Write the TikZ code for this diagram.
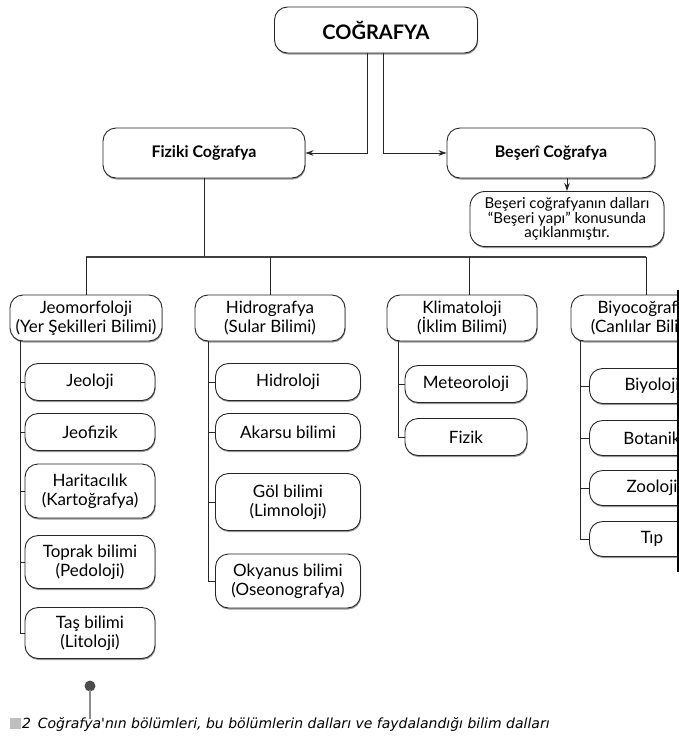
\documentclass[tikz,border=0pt]{standalone}
\usepackage{fontspec}
\setmainfont{Lato}
\newfontfamily\capfont{DejaVu Sans}
\usetikzlibrary{arrows.meta,shadows}
\begin{document}
\begin{tikzpicture}[x=1pt,y=-1pt,
  box/.style={draw=black!85, line width=0.9pt, rounded corners=13pt, fill=white,
    align=center, inner sep=0pt, font=\fontsize{17}{19}\selectfont,
    drop shadow={shadow xshift=0.6pt, shadow yshift=-1.5pt, fill=black!40, opacity=1}},
  title/.style={box, font=\fontsize{16}{18}\selectfont\bfseries},
  small/.style={box, font=\fontsize{15}{14.5}\selectfont, rounded corners=15pt},
  conn/.style={draw=black!85, line width=1pt},
  bus/.style={draw=black!75, line width=1.6pt},
  arr/.style={conn, -{Stealth[length=8pt, width=5.5pt]}},
]
\useasboundingbox (0,0) rectangle (679,739);
\clip (0,0) rectangle (679,739);

% top level
\node[title, font=\fontsize{20}{22}\selectfont\bfseries, minimum width=203pt, minimum height=46pt] (cog) at (376,30) {COĞRAFYA};
\node[title, minimum width=202pt, minimum height=50pt] (fiz) at (204,153) {Fiziki Coğrafya};
\node[title, minimum width=208pt, minimum height=50pt] (bes) at (551,153) {Beşerî Coğrafya};
\node[small, minimum width=194pt, minimum height=55pt] (dal) at (567,219) {Beşeri coğrafyanın dalları\\“Beşeri yapı” konusunda\\açıklanmıştır.};

\coordinate (cl) at (367,153);
\coordinate (cr) at (383,153);
\draw[arr] (cog.south -| cl) |- (fiz.east);
\draw[arr] (cog.south -| cr) |- (bes.west);
\draw[arr] (bes.south -| dal.north) -- (dal.north);

% second level
\node[box, minimum width=152pt, minimum height=46pt] (jeo) at (86,318) {Jeomorfoloji\\(Yer Şekilleri Bilimi)};
\node[box, minimum width=150pt, minimum height=46pt] (hid) at (270,318) {Hidrografya\\(Sular Bilimi)};
\node[box, minimum width=150pt, minimum height=46pt] (kli) at (462,318) {Klimatoloji\\(İklim Bilimi)};
\node[box, minimum width=150pt, minimum height=46pt] (biy) at (646,318) {Biyocoğrafya\\(Canlılar Bilimi)};

\coordinate (busy) at (0,257);
\coordinate (kd) at (469,0);
\draw[conn] (fiz.south) -- (fiz.south |- busy);
\draw[bus] (jeo.north |- busy) -- (biy.north |- busy);
\foreach \n in {jeo,hid,biy} {\draw[conn] (\n.north |- busy) -- (\n.north);}
\draw[conn] (kd |- busy) -- (kd |- kli.north);

% Jeomorfoloji column
\node[box, minimum width=130pt, minimum height=37pt] (j1) at (90,382) {Jeoloji};
\node[box, minimum width=130pt, minimum height=37pt] (j2) at (90,432) {Jeofizik};
\node[box, minimum width=130pt, minimum height=54pt] (j3) at (90,491) {Haritacılık\\(Kartoğrafya)};
\node[box, minimum width=130pt, minimum height=53pt] (j4) at (90,562) {Toprak bilimi\\(Pedoloji)};
\node[box, minimum width=130pt, minimum height=51pt] (j5) at (90,633) {Taş bilimi\\(Litoloji)};

% Hidrografya column
\node[box, minimum width=145pt, minimum height=37pt] (h1) at (288,382) {Hidroloji};
\node[box, minimum width=145pt, minimum height=37pt] (h2) at (288,432) {Akarsu bilimi};
\node[box, minimum width=145pt, minimum height=57pt] (h3) at (288,502) {Göl bilimi\\(Limnoloji)};
\node[box, minimum width=145pt, minimum height=54pt] (h4) at (288,581) {Okyanus bilimi\\(Oseonografya)};

% Klimatoloji column
\node[box, minimum width=122pt, minimum height=37pt] (k1) at (466,384) {Meteoroloji};
\node[box, minimum width=122pt, minimum height=37pt] (k2) at (466,437) {Fizik};

% Biyocografya column
\node[box, minimum width=125pt, minimum height=35pt] (b1) at (652,386) {Biyoloji};
\node[box, minimum width=125pt, minimum height=35pt] (b2) at (652,438) {Botanik};
\node[box, minimum width=125pt, minimum height=35pt] (b3) at (652,488) {Zooloji};
\node[box, minimum width=125pt, minimum height=35pt] (b4) at (652,539) {Tıp};

% column connectors
\coordinate (jx) at (20,0);
\coordinate (hx) at (208,0);
\coordinate (kx) at (398,0);
\coordinate (bx) at (580,0);
\draw[conn] (jeo.south -| jx) |- (j5.west);
\foreach \c in {j1,j2,j3,j4} {\draw[conn] (\c.west -| jx) -- (\c.west);}
\draw[conn] (hid.south -| hx) |- (h4.west);
\foreach \c in {h1,h2,h3} {\draw[conn] (\c.west -| hx) -- (\c.west);}
\draw[conn] (kli.south -| kx) |- (k2.west);
\draw[conn] (k1.west -| kx) -- (k1.west);
\draw[conn] (biy.south -| bx) |- (b4.west);
\foreach \c in {b1,b2,b3} {\draw[conn] (\c.west -| bx) -- (\c.west);}

% right scan edge
\fill[black] (677,290) rectangle (679,572);

% pin and caption
\fill[black!70] (90,686) circle (5.5);
\draw[black!45, line width=2pt] (90,690) -- (90,719);
\fill[black!25] (10,718) rectangle (21,729);
\node[anchor=west, inner sep=0pt, font=\capfont\fontsize{14}{15}\selectfont\itshape] (cap) at (22,724)
  {2\, Coğrafya'nın bölümleri, bu bölümlerin dalları ve faydalandığı bilim dalları};
\end{tikzpicture}
\end{document}
